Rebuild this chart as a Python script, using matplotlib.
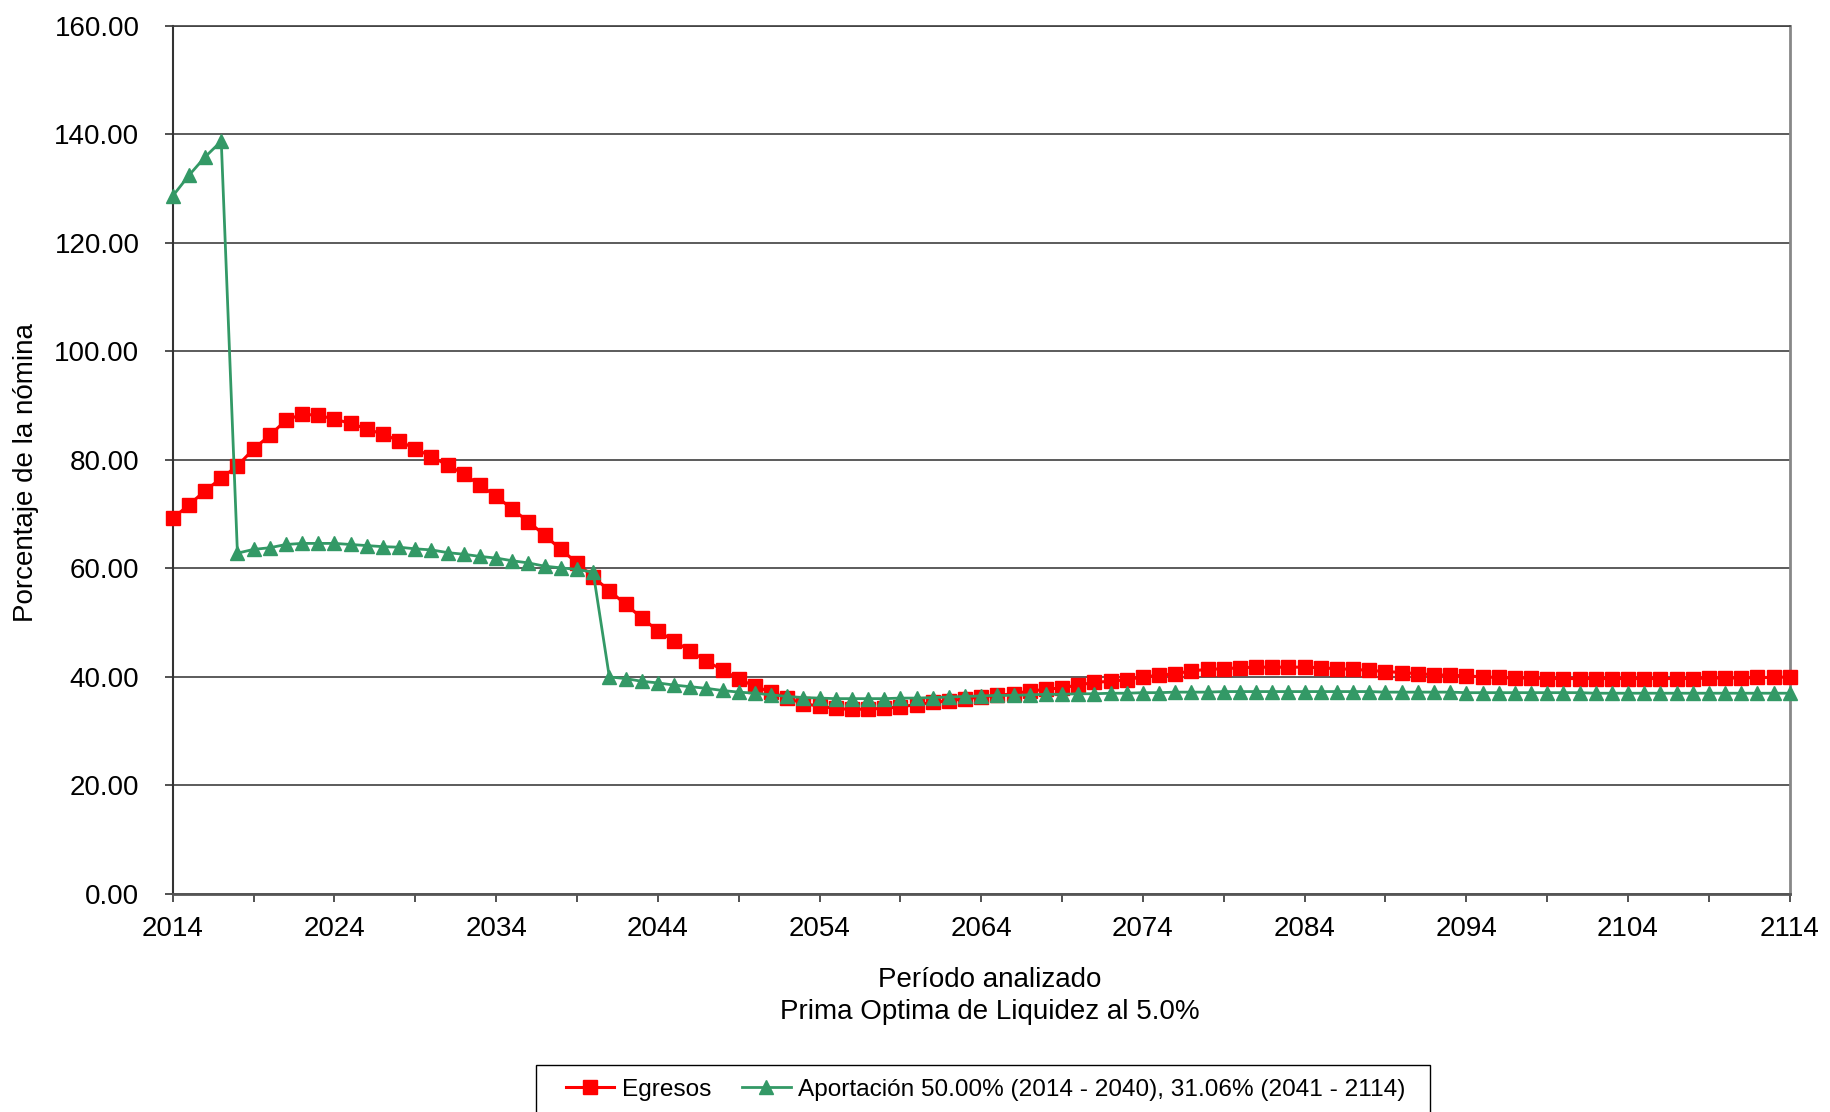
import matplotlib
matplotlib.use("Agg")
import matplotlib.pyplot as plt
from matplotlib.patches import Rectangle
from matplotlib.ticker import FixedLocator, FormatStrFormatter, MultipleLocator

plt.rcParams['font.family'] = ['Liberation Sans', 'DejaVu Sans']

years = list(range(2014, 2115))

egresos = [
    69.2, 71.7, 74.3, 76.6, 78.9, 82.0, 84.5, 87.3, 88.4, 88.2,
    87.5, 86.7, 85.7, 84.7, 83.5, 82.0, 80.6, 79.0, 77.4, 75.3,
    73.3, 70.9, 68.6, 66.1, 63.5, 61.0, 58.4, 55.9, 53.4, 50.9,
    48.5, 46.6, 44.8, 42.9, 41.3, 39.6, 38.3, 37.2, 36.1, 35.1,
    34.6, 34.2, 34.0, 34.1, 34.2, 34.5, 34.9, 35.3, 35.6, 36.0,
    36.3, 36.6, 36.9, 37.4, 37.7, 38.0, 38.5, 39.0, 39.2, 39.5,
    40.0, 40.3, 40.6, 41.1, 41.4, 41.5, 41.7, 41.8, 41.8, 41.8,
    41.8, 41.7, 41.5, 41.4, 41.2, 41.0, 40.8, 40.6, 40.4, 40.3,
    40.2, 40.0, 39.9, 39.8, 39.8, 39.7, 39.7, 39.7, 39.7, 39.7,
    39.7, 39.7, 39.7, 39.7, 39.7, 39.8, 39.8, 39.8, 39.9, 39.9,
    40.0,
]

aportacion = [
    128.6, 132.4, 135.8, 138.7, 62.8, 63.5, 63.8, 64.4, 64.6, 64.6,
    64.6, 64.4, 64.2, 64.0, 63.9, 63.6, 63.4, 62.9, 62.6, 62.2,
    61.9, 61.4, 61.0, 60.4, 60.1, 59.8, 59.3, 40.0, 39.7, 39.2,
    38.9, 38.5, 38.2, 37.9, 37.5, 37.2, 37.0, 36.7, 36.4, 36.2,
    36.1, 36.0, 36.0, 36.0, 36.0, 36.1, 36.1, 36.2, 36.3, 36.4,
    36.5, 36.6, 36.6, 36.7, 36.8, 36.8, 36.9, 36.9, 37.0, 37.0,
    37.1, 37.1, 37.2, 37.2, 37.2, 37.3, 37.3, 37.3, 37.3, 37.3,
    37.3, 37.3, 37.3, 37.3, 37.3, 37.2, 37.2, 37.2, 37.2, 37.2,
    37.1, 37.1, 37.1, 37.1, 37.1, 37.1, 37.1, 37.1, 37.0, 37.0,
    37.0, 37.0, 37.0, 37.0, 37.0, 37.0, 37.0, 37.0, 37.0, 37.0,
    37.0,
]

tick_years = years[::5]
tick_labels = [str(y) if (y - 2014) % 10 == 0 else '' for y in tick_years]

label_egresos = 'Egresos'
label_aportacion = 'Aportación 50.00% (2014 - 2040), 31.06% (2041 - 2114)'

fig = plt.figure(figsize=(18.3, 11.12), dpi=100)
ax = fig.add_axes([0.0944, 0.196, 0.8836, 0.781])

ax.plot(years, egresos, color='#FF0000', lw=2.2, marker='s', markersize=10.5,
        label=label_egresos, clip_on=False, zorder=3)
ax.plot(years, aportacion, color='#339966', lw=2.0, marker='^', markersize=10.5,
        label=label_aportacion, clip_on=False, zorder=4)

ax.set_xlim(2014, 2114)
ax.set_ylim(0, 160)
ax.xaxis.set_major_locator(FixedLocator(tick_years))
ax.set_xticklabels(tick_labels)
ax.yaxis.set_major_locator(MultipleLocator(20))
ax.yaxis.set_major_formatter(FormatStrFormatter('%.2f'))

ax.grid(axis='y', color='#404040', lw=1.2)
ax.set_axisbelow(True)
ax.tick_params(axis='both', direction='out', length=6, width=1.2, labelsize=20,
               colors='#333333', labelcolor='black')
ax.tick_params(axis='x', pad=10)
ax.tick_params(axis='y', pad=18)

ax.spines['top'].set_color('#404040')
ax.spines['top'].set_linewidth(1.2)
ax.spines['right'].set_color('#888888')
ax.spines['right'].set_linewidth(2)
ax.spines['left'].set_color('#333333')
ax.spines['left'].set_linewidth(1.5)
ax.spines['bottom'].set_color('#555555')
ax.spines['bottom'].set_linewidth(2)

ax.set_ylabel('Porcentaje de la nómina', fontsize=20)
ax.yaxis.set_label_coords(-0.0825, 0.485)
ax.set_xlabel('Período analizado\nPrima Optima de Liquidez al 5.0%', fontsize=20,
              linespacing=1.3)
ax.xaxis.set_label_coords(0.5054, -0.084)

# legend box, cut by the lower edge of the figure as in the original
fig.patches.append(Rectangle((0.2929, -0.05), 0.4885, 0.0923, transform=fig.transFigure,
                             facecolor='white', edgecolor='black', lw=1.0, zorder=1))
leg = fig.legend(loc='upper left', bbox_to_anchor=(0.3017, 0.0423), ncol=2,
                 fontsize=17.6, frameon=False, handlelength=2.0, handletextpad=0.3,
                 columnspacing=1.25, borderpad=0.55, borderaxespad=0, markerscale=0.9)
leg.set_zorder(2)

fig.savefig('out.png', dpi=100)
